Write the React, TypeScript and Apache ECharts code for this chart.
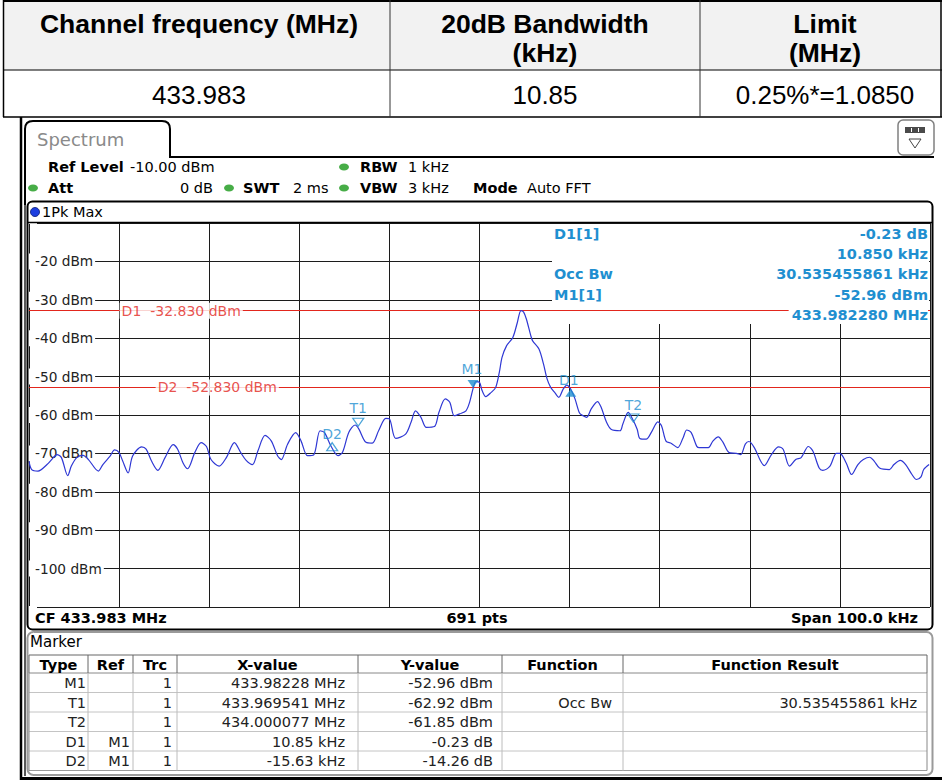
import React, { useEffect, useRef } from 'react';
import * as echarts from 'echarts';

// ---------------- data ----------------
const summaryHeaders = ['Channel frequency (MHz)', '20dB Bandwidth|(kHz)', 'Limit|(MHz)'];
const summaryValues = ['433.983', '10.85', '0.25%*=1.0850'];

const centerFreqMHz = 433.983;
const spanKHz = 100;
const refLevelDbm = -10;
const bottomLevelDbm = -110;
const tracePoints = '691 pts';

const traceOffsetKHz = [
  -50.0, -49.7, -49.0, -48.0, -47.3, -46.9, -46.4, -45.7, -45.3, -44.7, -44.0, -43.4, -42.3, -41.8,
  -41.0, -40.5, -40.0, -39.6, -39.0, -38.5, -37.5, -37.0, -36.4, -35.7, -34.9, -34.0, -33.5, -32.9,
  -32.4, -31.6, -30.9, -30.3, -29.8, -28.9, -28.1, -27.2, -26.5, -25.9, -25.2, -24.6, -23.8, -23.1,
  -22.4, -22.0, -21.3, -20.4, -19.8, -19.1, -18.4, -17.7, -17.2, -16.5, -15.7, -15.2, -14.5, -13.8,
  -13.4, -12.6, -11.9, -11.2, -10.4, -10.0, -9.3, -8.2, -7.6, -7.1, -6.5, -5.9, -5.0, -4.5, -3.8,
  -3.3, -2.8, -2.2, -1.5, -1.1, -0.7, -0.4, 0.0, 0.3, 0.7, 1.3, 1.8, 2.2, 2.5, 3.0, 3.7, 4.2, 4.6,
  4.9, 5.2, 5.7, 5.9, 6.6, 7.1, 7.5, 7.9, 8.4, 8.8, 9.3, 9.7, 10.1, 10.6, 11.1, 11.5, 11.9, 12.4,
  13.1, 13.5, 14.1, 14.6, 15.6, 15.9, 16.5, 17.0, 17.5, 17.8, 18.5, 19.1, 19.8, 20.2, 20.7, 21.3,
  22.0, 22.6, 23.0, 23.5, 24.1, 24.4, 25.4, 25.9, 26.5, 27.0, 27.7, 28.5, 29.0, 29.5, 29.9, 30.5,
  31.2, 31.6, 32.4, 33.2, 33.7, 34.4, 35.1, 35.7, 36.5, 37.0, 37.7, 38.1, 38.9, 39.6, 40.0, 40.7,
  41.3, 42.0, 42.6, 43.3, 43.8, 44.4, 45.5, 46.0, 46.7, 47.3, 48.0, 48.5, 49.0, 49.3, 49.9,
];
const traceLevelDbm = [
  -72.0, -74.2, -74.6, -72.9, -71.1, -70.3, -71.1, -75.8, -73.3, -71.1, -70.5, -71.6, -74.6, -72.9,
  -70.7, -69.1, -69.8, -72.0, -75.1, -70.7, -68.3, -68.9, -72.0, -74.4, -71.1, -67.7, -68.9, -72.5,
  -74.0, -69.8, -67.2, -68.2, -71.6, -73.3, -71.1, -67.2, -69.8, -71.8, -72.9, -69.4, -65.3, -66.8,
  -70.7, -71.6, -67.6, -64.6, -66.8, -70.6, -70.4, -64.1, -64.6, -68.0, -70.6, -69.7, -64.5, -62.6,
  -63.6, -67.1, -67.3, -64.1, -60.9, -61.0, -66.1, -65.0, -61.9, -58.9, -60.6, -63.2, -63.0, -59.3, -55.8,
  -56.7, -60.2, -59.7, -58.9, -56.7, -53.0, -51.3, -51.5, -53.7, -55.2, -54.1, -52.8, -48.9, -45.0, -42.0, -39.8, -35.9, -32.8,
  -33.2, -35.0, -39.4, -40.7, -42.8, -46.7, -50.6, -52.8, -54.3, -55.4, -53.2, -52.2, -53.2, -55.8, -59.5, -60.2, -60.6, -58.4,
  -56.5, -58.0, -61.9, -63.7, -64.1, -62.4, -59.3, -61.1, -63.7, -66.1, -66.3, -64.4, -61.8, -62.8, -66.8, -67.4,
  -68.5, -65.9, -63.9, -64.6, -68.1, -68.5, -68.5, -66.8, -65.7, -67.0, -69.8, -70.0, -70.3, -67.6, -66.9, -68.5,
  -72.0, -73.2, -70.3, -68.3, -68.9, -73.3, -71.6, -71.1, -68.2, -69.4, -73.8, -74.4, -73.3, -70.0, -70.0, -72.5,
  -75.5, -72.9, -71.6, -71.0, -72.0, -73.8, -74.2, -72.9, -71.8, -72.9, -75.5, -76.8, -76.1, -74.2, -72.9,
];

const displayLineNames = ['D1', 'D2'];
const displayLineLevels = [-32.83, -52.83];
const displayLineLabelKHz = [-40, -36];

const markerTypes = ['M1', 'T1', 'T2', 'D1', 'D2'];
const markerRefs = ['', '', '', 'M1', 'M1'];
const markerTrcs = ['1', '1', '1', '1', '1'];
const markerXValues = ['433.98228 MHz', '433.969541 MHz', '434.000077 MHz', '10.85 kHz', '-15.63 kHz'];
const markerYValues = ['-52.96 dBm', '-62.92 dBm', '-61.85 dBm', '-0.23 dB', '-14.26 dB'];
const markerFunctions = ['', 'Occ Bw', '', '', ''];
const markerResults = ['', '30.535455861 kHz', '', '', ''];
const markerTableHeaders = ['Type', 'Ref', 'Trc', 'X-value', 'Y-value', 'Function', 'Function Result'];

const absMarkerFreqMHz = [433.98228, 433.969541, 434.000077];
const absMarkerLevelDbm = [-52.96, -62.92, -61.85];
const deltaMarkerKHz = [10.85, -15.63];
const deltaMarkerDb = [-0.23, -14.26];

const infoLeft = ['D1[1]', '', 'Occ Bw', 'M1[1]', ''];
const infoRight = ['-0.23 dB', '10.850 kHz', '30.535455861 kHz', '-52.96 dBm', '433.982280 MHz'];

// ---------------- styling / layout ----------------
const UI = '"DejaVu Sans", Verdana, sans-serif';
const DOC = '"Liberation Sans", Arial, sans-serif';
const CYAN = '#1f8fd0';
const RED = '#e2261d';
const TRACE = '#2e37d4';
const GREEN = '#47ad47';

const colX = [29, 88, 133, 177, 358, 502, 623, 927];
const colPadR = [2, 3, 5, 13, 9, 11, 10];
const hdrTop = 655;
const hdrBot = 673;
const rowH = 19.5;

const markerFilled = [true, false, false, true, false];
const markerDown = [true, true, true, false, false];
const markerLabelOffset = [[-1, -19], [0, -18], [0, -17], [-2, -9], [0, -9]];

echarts.graphic.registerShape(
  'specTab',
  echarts.graphic.extendPath('M25 205 L25 129 Q25 121 33 121 L162 121 Q170 121 170 129 L170 157 L934 157', {})
);

function txt(x: number, y: number, text: string, o: any = {}) {
  const align = o.align || 'left';
  return {
    type: 'text',
    x,
    y,
    z: o.z ?? 20,
    silent: true,
    style: {
      text,
      fill: o.color || '#000',
      fontSize: o.size || 14.5,
      fontFamily: o.family || UI,
      fontWeight: o.bold ? 'bold' : 'normal',
      align,
      textAlign: align,
      verticalAlign: 'middle',
      textVerticalAlign: 'middle',
      backgroundColor: o.bg,
      padding: o.pad,
    },
  };
}
function ln(x1: number, y1: number, x2: number, y2: number, stroke = '#000', lineWidth = 1, z = 20) {
  return { type: 'line', z, silent: true, shape: { x1, y1, x2, y2 }, style: { stroke, lineWidth } };
}

function buildGraphics() {
  const g: any[] = [];
  // ---- summary table ----
  g.push({ type: 'rect', z: 5, shape: { x: 3, y: 1, width: 938, height: 69 }, style: { fill: '#f2f2f2' } });
  g.push(ln(3, 1, 942, 1, '#000', 2));
  g.push(ln(3, 70, 942, 70, '#000', 1));
  g.push(ln(3, 117, 942, 117, '#000', 1.5));
  g.push(ln(3.5, 0, 3.5, 117, '#000', 1.5));
  g.push(ln(390, 0, 390, 117, '#333', 1));
  g.push(ln(700, 0, 700, 117, '#333', 1));
  g.push(ln(941, 0, 941, 117, '#000', 1.5));
  const centers = [199, 545, 825];
  summaryHeaders.forEach((h, i) => {
    const parts = h.split('|');
    parts.forEach((p, k) => g.push(txt(centers[i], 24 + k * 29, p, { bold: true, size: 26.5, family: DOC, align: 'center' })));
  });
  summaryValues.forEach((v, i) => g.push(txt(centers[i], 95, v, { size: 26, family: DOC, align: 'center' })));

  // ---- report frame ----
  g.push(ln(21, 117, 21, 780, '#000', 2.5));
  g.push(ln(20, 778.5, 942, 778.5, '#000', 3));
  g.push(ln(25, 200, 25, 776, '#222', 1.5));

  // ---- spectrum tab & icon ----
  g.push({ type: 'specTab', z: 20, silent: true, x: 0, y: 0, style: { fill: 'none', stroke: '#000', lineWidth: 2 } });
  g.push(txt(37, 139, 'Spectrum', { size: 18, color: '#8a8a8a' }));
  g.push({ type: 'rect', z: 20, shape: { x: 898, y: 120, width: 36, height: 35, r: 5 }, style: { fill: '#fff', stroke: '#808080', lineWidth: 1.5 } });
  g.push({ type: 'rect', z: 21, shape: { x: 905, y: 127, width: 20, height: 6 }, style: { fill: '#4a4a4a' } });
  g.push(ln(911.5, 128, 911.5, 132, '#fff', 1, 22));
  g.push(ln(918.5, 128, 918.5, 132, '#fff', 1, 22));
  g.push({ type: 'polygon', z: 21, shape: { points: [[909, 139], [921, 139], [915, 148]] }, style: { fill: '#fff', stroke: '#444', lineWidth: 1 } });

  // ---- settings ----
  g.push(txt(48, 167, 'Ref Level', { bold: true }));
  g.push(txt(130, 167, `${refLevelDbm.toFixed(2)} dBm`));
  g.push({ type: 'ellipse', z: 20, shape: { cx: 344, cy: 167, rx: 5, ry: 3.5 }, style: { fill: GREEN } });
  g.push(txt(360, 167, 'RBW', { bold: true }));
  g.push(txt(408, 167, '1 kHz'));
  g.push({ type: 'ellipse', z: 20, shape: { cx: 33, cy: 188, rx: 5, ry: 3.5 }, style: { fill: GREEN } });
  g.push(txt(48, 188, 'Att', { bold: true }));
  g.push(txt(213, 188, '0 dB', { align: 'right' }));
  g.push({ type: 'ellipse', z: 20, shape: { cx: 229, cy: 188, rx: 5, ry: 3.5 }, style: { fill: GREEN } });
  g.push(txt(243, 188, 'SWT', { bold: true }));
  g.push(txt(293, 188, '2 ms'));
  g.push({ type: 'ellipse', z: 20, shape: { cx: 344, cy: 188, rx: 5, ry: 3.5 }, style: { fill: GREEN } });
  g.push(txt(360, 188, 'VBW', { bold: true }));
  g.push(txt(408, 188, '3 kHz'));
  g.push(txt(473, 188, 'Mode', { bold: true }));
  g.push(txt(527, 188, 'Auto FFT'));

  // ---- plot frame ----
  g.push({ type: 'rect', z: 20, silent: true, shape: { x: 27.5, y: 201.5, width: 905, height: 428, r: 5 }, style: { fill: 'none', stroke: '#000', lineWidth: 2 } });
  g.push(ln(28, 222.5, 932, 222.5, '#000', 1.5));
  g.push({ type: 'circle', z: 20, shape: { cx: 35, cy: 212, r: 4.5 }, style: { fill: '#1d3fe0', stroke: '#0a1a70', lineWidth: 0.8 } });
  g.push(txt(42, 212, '1Pk Max'));
  g.push(txt(35, 618, `CF ${centerFreqMHz.toFixed(3)} MHz`, { bold: true }));
  g.push(txt(477, 618, tracePoints, { bold: true, align: 'center' }));
  g.push(txt(918, 618, `Span ${spanKHz.toFixed(1)} kHz`, { bold: true, align: 'right' }));

  // ---- marker info box inside the diagram ----
  g.push({ type: 'rect', z: 1, silent: true, shape: { x: 552, y: 224, width: 377, height: 100 }, style: { fill: '#fff' } });
  const infoY = [234, 254, 274, 295, 315];
  infoLeft.forEach((t, i) => { if (t) g.push(txt(554, infoY[i], t, { bold: true, color: CYAN })); });
  infoRight.forEach((t, i) => g.push(txt(928, infoY[i], t, { bold: true, color: CYAN, align: 'right', bg: '#fff', pad: [0, 0, 0, 3] })));

  // ---- marker table ----
  g.push({ type: 'rect', z: 20, silent: true, shape: { x: 27.5, y: 632, width: 905, height: 143, r: 6 }, style: { fill: 'none', stroke: '#9a9a9a', lineWidth: 2 } });
  g.push(txt(30, 642, 'Marker', { size: 15 }));
  const tblBot = hdrBot + rowH * markerTypes.length;
  g.push(ln(colX[0], hdrTop, colX[7], hdrTop, '#666', 1));
  g.push(ln(colX[0], hdrBot, colX[7], hdrBot, '#888', 1));
  for (let r = 1; r <= markerTypes.length; r++) {
    g.push(ln(colX[0], hdrBot + r * rowH, colX[7], hdrBot + r * rowH, r === markerTypes.length ? '#999' : '#c4c4c4', 1));
  }
  colX.forEach((x, i) => {
    g.push(ln(x, hdrTop, x, hdrBot, '#666', 1));
    g.push(ln(x, hdrBot, x, tblBot, i === 0 || i === 7 ? '#888' : '#bcbcbc', 1));
  });
  markerTableHeaders.forEach((h, i) => g.push(txt((colX[i] + colX[i + 1]) / 2, 664.5, h, { bold: true, align: 'center' })));
  const cols = [markerTypes, markerRefs, markerTrcs, markerXValues, markerYValues, markerFunctions, markerResults];
  cols.forEach((col, c) => {
    col.forEach((v, r) => {
      if (v) g.push(txt(colX[c + 1] - colPadR[c], hdrBot + r * rowH + rowH / 2 + 0.5, v, { align: 'right', color: '#222' }));
    });
  });
  return g;
}

function buildOption() {
  const trace = traceOffsetKHz.map((x, i) => [x, traceLevelDbm[i]]);

  const m1K = (absMarkerFreqMHz[0] - centerFreqMHz) * 1000;
  const markerPos: number[][] = [
    ...absMarkerFreqMHz.map((f, i) => [(f - centerFreqMHz) * 1000, absMarkerLevelDbm[i]]),
    ...deltaMarkerKHz.map((d, i) => [m1K + d, absMarkerLevelDbm[0] + deltaMarkerDb[i]]),
  ];
  const downPath = 'path://M0 0L10 0L5 8Z';
  const upPath = 'path://M5 0L10 8L0 8Z';

  const markerSymbols = markerPos.map((p, i) => ({
    value: p,
    symbol: markerDown[i] ? downPath : upPath,
    symbolOffset: [0, markerDown[i] ? -4 : 4],
    itemStyle: markerFilled[i]
      ? { color: CYAN }
      : { color: 'rgba(255,255,255,0)', borderColor: CYAN, borderWidth: 1.2 },
  }));
  const markerLabels = markerPos.map((p, i) => ({
    value: p,
    label: { offset: markerLabelOffset[i], formatter: markerTypes[i] },
  }));

  return {
    animation: false,
    backgroundColor: '#fff',
    graphic: { elements: buildGraphics() },
    grid: { left: 29, top: 223, width: 901, height: 384, show: false },
    xAxis: {
      type: 'value',
      min: -spanKHz / 2,
      max: spanKHz / 2,
      interval: 10,
      axisLine: { show: false },
      axisTick: { show: false },
      axisLabel: { show: false },
      splitLine: { show: true, lineStyle: { color: '#1c1c1c', width: 1 } },
    },
    yAxis: [
      {
        type: 'value',
        min: bottomLevelDbm,
        max: refLevelDbm,
        interval: 10,
        axisLine: { show: false },
        axisTick: { show: false },
        axisLabel: { show: false },
        splitLine: { show: true, lineStyle: { color: '#1c1c1c', width: 1 } },
      },
      {
        type: 'value',
        position: 'left',
        z: 1,
        min: bottomLevelDbm,
        max: refLevelDbm,
        interval: 10,
        axisLine: { show: false },
        axisTick: { show: false },
        splitLine: { show: false },
        axisLabel: {
          inside: true,
          margin: 0,
          formatter: (v: number) => (v === refLevelDbm || v === bottomLevelDbm ? '' : `${v} dBm`),
          color: '#222',
          fontFamily: UI,
          fontSize: 13.7,
          backgroundColor: '#fff',
          padding: [1, 2, 1, 6],
        },
      },
    ],
    series: [
      {
        type: 'line',
        name: 'Trc 1',
        data: trace,
        symbol: 'none',
        showSymbol: false,
        smooth: 0.3,
        z: 3,
        lineStyle: { color: TRACE, width: 1.2 },
        markLine: {
          silent: true,
          symbol: 'none',
          z: 3,
          label: { show: false },
          lineStyle: { color: RED, width: 1, type: 'solid' },
          data: displayLineLevels.map((v) => ({ yAxis: v })),
        },
      },
      {
        type: 'scatter',
        name: 'display line labels',
        z: 10,
        symbolSize: 1,
        itemStyle: { color: 'rgba(0,0,0,0)' },
        data: displayLineLevels.map((v, i) => ({
          value: [displayLineLabelKHz[i], v],
          label: { formatter: `${displayLineNames[i]}  ${v.toFixed(3)} dBm` },
        })),
        label: {
          show: true,
          position: 'right',
          distance: 0,
          color: RED,
          fontFamily: UI,
          fontSize: 14,
          backgroundColor: '#fff',
          padding: [1, 2, 1, 2],
        },
      },
      {
        type: 'scatter',
        name: 'markers',
        z: 11,
        symbolSize: [11, 8],
        data: markerSymbols,
      },
      {
        type: 'scatter',
        name: 'marker labels',
        z: 12,
        symbolSize: 1,
        itemStyle: { color: 'rgba(0,0,0,0)' },
        data: markerLabels,
        label: { show: true, position: 'inside', color: CYAN, fontFamily: UI, fontSize: 14 },
      },
    ],
  };
}

export default function App() {
  const ref = useRef<HTMLDivElement>(null);
  useEffect(() => {
    document.body.style.margin = '0';
    const chart = echarts.init(ref.current as HTMLDivElement, null, { renderer: 'svg', width: 942, height: 780 });
    chart.setOption(buildOption() as any);
    return () => chart.dispose();
  }, []);
  return <div ref={ref} style={{ width: 942, height: 780, position: 'absolute', left: 0, top: 0 }} />;
}
